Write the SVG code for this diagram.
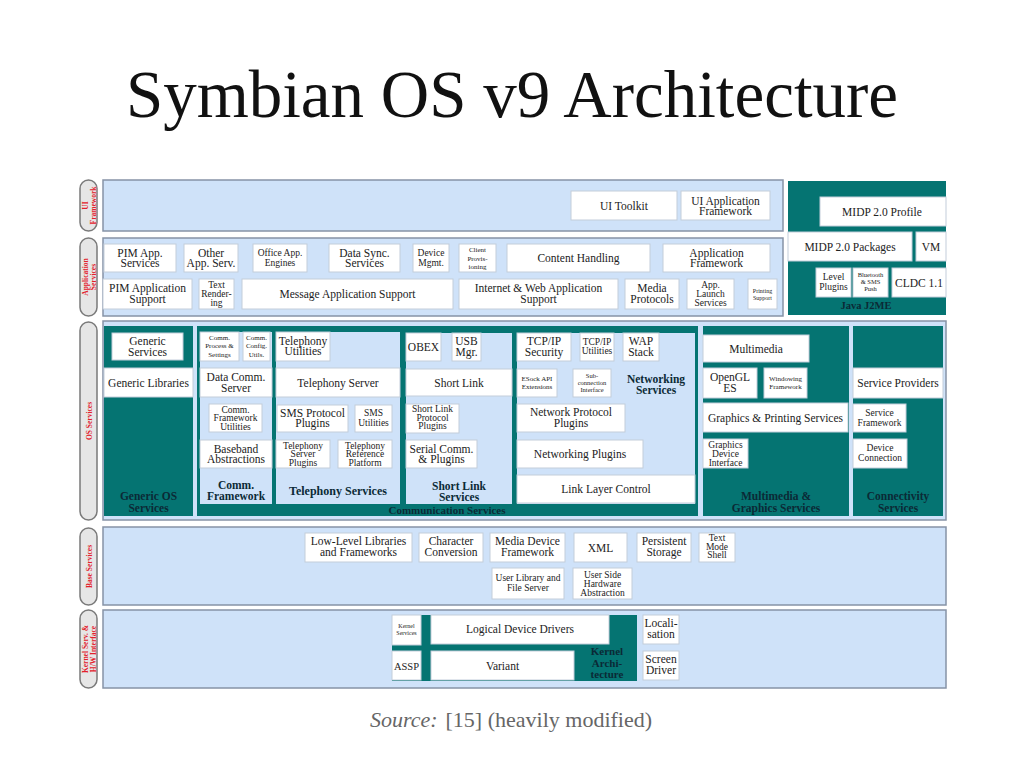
<svg xmlns="http://www.w3.org/2000/svg" width="1024" height="768" viewBox="0 0 1024 768">
<style>
.band{fill:#cfe2f9;stroke:#8693a6;stroke-width:1.5}
.teal{fill:#057472}
.lb{fill:#cfe2f9}
.w{fill:#fff;stroke:#c3cdda;stroke-width:1}
.pill{fill:#e6e6e6;stroke:#7a7a7a;stroke-width:1.5}
text{font-family:"Liberation Serif","Times New Roman",serif;text-anchor:middle;fill:#222;font-size:11.5px}
.s9{font-size:9.5px}
.s7{font-size:7px}
.s6{font-size:6px}
.b{font-weight:bold;fill:#0b2a36;font-size:11.5px}
.pt{font-weight:bold;fill:#e3202a;font-size:7.5px}
</style>
<rect width="1024" height="768" fill="#fff"/>
<text x="512" y="117" style="font-size:67px;fill:#111">Symbian OS v9 Architecture</text>
<text x="511" y="727" style="font-size:22px;fill:#666"><tspan font-style="italic">Source:</tspan><tspan dx="8">[15] (heavily modified)</tspan></text>

<g id="layer-labels">
<rect class="pill" x="80" y="180" width="17" height="51" rx="8.5"/>
<text class="pt" transform="translate(88.5,205.5) rotate(-90)"><tspan x="0" y="-1">UI</tspan><tspan x="0" y="7">Framework</tspan></text>
<rect class="pill" x="80" y="238" width="17" height="78" rx="8.5"/>
<text class="pt" transform="translate(88.5,277) rotate(-90)"><tspan x="0" y="-1">Application</tspan><tspan x="0" y="7">Services</tspan></text>
<rect class="pill" x="80" y="322" width="17" height="198" rx="8.5"/>
<text class="pt" transform="translate(88.5,421) rotate(-90)" x="0" y="3">OS Services</text>
<rect class="pill" x="80" y="528" width="17" height="77" rx="8.5"/>
<text class="pt" transform="translate(88.5,566.5) rotate(-90)" x="0" y="3">Base Services</text>
<rect class="pill" x="80" y="610" width="17" height="78" rx="8.5"/>
<text class="pt" transform="translate(88.5,649) rotate(-90)"><tspan x="0" y="-1">Kernel Serv. &amp;</tspan><tspan x="0" y="7">H/W Interface</tspan></text>
</g>

<g id="ui-framework">
<rect class="band" x="103" y="180" width="680" height="51"/>
<g id="ui-toolkit"><rect class="w" x="571" y="191" width="106" height="29"/><text x="624" y="209.5">UI Toolkit</text></g>
<g id="ui-app-framework"><rect class="w" x="681" y="191" width="89" height="29"/><text x="725.5"><tspan x="725.5" y="204.5">UI Application</tspan><tspan x="725.5" y="214.5">Framework</tspan></text></g>
</g>

<g id="application-services">
<rect class="band" x="103" y="238" width="680" height="78"/>
<g id="pim-app-services"><rect class="w" x="104" y="244" width="72" height="28"/><text><tspan x="140" y="257">PIM App.</tspan><tspan x="140" y="267">Services</tspan></text></g>
<g id="other-app-serv"><rect class="w" x="184" y="244" width="54" height="28"/><text><tspan x="211" y="257">Other</tspan><tspan x="211" y="267">App. Serv.</tspan></text></g>
<g id="office-app-engines"><rect class="w" x="253" y="244" width="54" height="28"/><text class="s9"><tspan x="280" y="256">Office App.</tspan><tspan x="280" y="266">Engines</tspan></text></g>
<g id="data-sync"><rect class="w" x="329" y="244" width="71" height="28"/><text><tspan x="364.5" y="257">Data Sync.</tspan><tspan x="364.5" y="267">Services</tspan></text></g>
<g id="device-mgmt"><rect class="w" x="413" y="244" width="36" height="28"/><text class="s9"><tspan x="431" y="256">Device</tspan><tspan x="431" y="266">Mgmt.</tspan></text></g>
<g id="client-provisioning"><rect class="w" x="459" y="244" width="37" height="28"/><text class="s7"><tspan x="477.5" y="252">Client</tspan><tspan x="477.5" y="260.5">Provis-</tspan><tspan x="477.5" y="269">ioning</tspan></text></g>
<g id="content-handling"><rect class="w" x="507" y="244" width="143" height="28"/><text x="578.5" y="262">Content Handling</text></g>
<g id="application-framework"><rect class="w" x="663" y="244" width="107" height="28"/><text><tspan x="716.5" y="257">Application</tspan><tspan x="716.5" y="267">Framework</tspan></text></g>
<g id="pim-app-support"><rect class="w" x="103" y="279" width="89" height="30"/><text><tspan x="147.5" y="292">PIM Application</tspan><tspan x="147.5" y="302.5">Support</tspan></text></g>
<g id="text-rendering"><rect class="w" x="199" y="279" width="35" height="30"/><text class="s9"><tspan x="216.5" y="287.5">Text</tspan><tspan x="216.5" y="297">Render-</tspan><tspan x="216.5" y="306">ing</tspan></text></g>
<g id="message-app-support"><rect class="w" x="242" y="279" width="211" height="30"/><text x="347.5" y="298">Message Application Support</text></g>
<g id="internet-web"><rect class="w" x="459" y="279" width="159" height="30"/><text><tspan x="538.5" y="292">Internet &amp; Web Application</tspan><tspan x="538.5" y="302.5">Support</tspan></text></g>
<g id="media-protocols"><rect class="w" x="625" y="279" width="54" height="30"/><text><tspan x="652" y="292">Media</tspan><tspan x="652" y="302.5">Protocols</tspan></text></g>
<g id="app-launch"><rect class="w" x="687" y="279" width="47" height="30"/><text class="s9"><tspan x="710.5" y="287.5">App.</tspan><tspan x="710.5" y="297">Launch</tspan><tspan x="710.5" y="306">Services</tspan></text></g>
<g id="printing-support"><rect class="w" x="748" y="279" width="29" height="30"/><text class="s6"><tspan x="762.5" y="293">Printing</tspan><tspan x="762.5" y="299.5">Support</tspan></text></g>
</g>

<g id="java-j2me">
<rect class="teal" x="788" y="181" width="158" height="134"/>
<g id="midp-profile"><rect class="w" x="820" y="197" width="126" height="29"/><text x="882" y="215.5">MIDP 2.0 Profile</text></g>
<g id="midp-packages"><rect class="w" x="788" y="232" width="124" height="29"/><text x="850" y="250.5">MIDP 2.0 Packages</text></g>
<g id="vm"><rect class="w" x="916" y="232" width="30" height="29"/><text x="931" y="250.5">VM</text></g>
<g id="level-plugins"><rect class="w" x="816" y="268" width="35" height="29"/><text class="s9"><tspan x="833.5" y="280">Level</tspan><tspan x="833.5" y="290">Plugins</tspan></text></g>
<g id="bluetooth-sms"><rect class="w" x="853" y="268" width="35" height="29"/><text style="font-size:6.5px"><tspan x="870.5" y="277">Bluetooth</tspan><tspan x="870.5" y="284">&amp; SMS</tspan><tspan x="870.5" y="291">Push</tspan></text></g>
<g id="cldc"><rect class="w" x="892" y="268" width="54" height="29"/><text x="919" y="286.5">CLDC 1.1</text></g>
<text class="b" x="866" y="309" style="font-size:10.5px">Java J2ME</text>
</g>

<g id="os-services">
<rect class="band" x="103" y="321" width="843" height="199"/>
<g id="generic-os-services">
<rect class="teal" x="104" y="326" width="89" height="190"/>
<g id="generic-services"><rect class="w" x="112" y="333" width="71" height="27"/><text><tspan x="147.5" y="345">Generic</tspan><tspan x="147.5" y="355.5">Services</tspan></text></g>
<g id="generic-libraries"><rect class="w" x="104" y="368" width="89" height="29"/><text x="148.5" y="386.5">Generic Libraries</text></g>
<text class="b"><tspan x="148.5" y="500">Generic OS</tspan><tspan x="148.5" y="511.5">Services</tspan></text>
</g>
<g id="communication-services">
<rect class="teal" x="197" y="326" width="501" height="190"/>
<text class="b" x="447" y="513.5" style="font-size:11px">Communication Services</text>
<g id="comm-framework">
<rect class="lb" x="200" y="332" width="72" height="172"/>
<g><rect class="w" x="200" y="332" width="39" height="29"/><text class="s7"><tspan x="219.5" y="339.5">Comm.</tspan><tspan x="219.5" y="348">Process &amp;</tspan><tspan x="219.5" y="356.5">Settings</tspan></text></g>
<g><rect class="w" x="243" y="332" width="27" height="29"/><text class="s7"><tspan x="256.5" y="339.5">Comm.</tspan><tspan x="256.5" y="348">Config.</tspan><tspan x="256.5" y="356.5">Utils.</tspan></text></g>
<g><rect class="w" x="200" y="368" width="72" height="29"/><text><tspan x="236" y="381">Data Comm.</tspan><tspan x="236" y="391.5">Server</tspan></text></g>
<g><rect class="w" x="209" y="404" width="53" height="28"/><text class="s9"><tspan x="235.5" y="412.5">Comm.</tspan><tspan x="235.5" y="421">Framework</tspan><tspan x="235.5" y="429.5">Utilities</tspan></text></g>
<g><rect class="w" x="200" y="440" width="72" height="28"/><text><tspan x="236" y="452.5">Baseband</tspan><tspan x="236" y="463">Abstractions</tspan></text></g>
<text class="b"><tspan x="236" y="488.5">Comm.</tspan><tspan x="236" y="500">Framework</tspan></text>
</g>
<g id="telephony-services">
<rect class="lb" x="276" y="332" width="124" height="172"/>
<g><rect class="w" x="276" y="332" width="54" height="29"/><text><tspan x="303" y="345">Telephony</tspan><tspan x="303" y="355">Utilities</tspan></text></g>
<g><rect class="w" x="276" y="368" width="124" height="29"/><text x="338" y="386.5">Telephony Server</text></g>
<g><rect class="w" x="277" y="405" width="71" height="27"/><text><tspan x="312.5" y="416.5">SMS Protocol</tspan><tspan x="312.5" y="427">Plugins</tspan></text></g>
<g><rect class="w" x="355" y="405" width="37" height="27"/><text class="s9"><tspan x="373.5" y="416">SMS</tspan><tspan x="373.5" y="425.5">Utilities</tspan></text></g>
<g><rect class="w" x="276" y="440" width="54" height="28"/><text class="s9"><tspan x="303" y="448.5">Telephony</tspan><tspan x="303" y="457">Server</tspan><tspan x="303" y="465.5">Plugins</tspan></text></g>
<g><rect class="w" x="338" y="440" width="54" height="28"/><text class="s9"><tspan x="365" y="448.5">Telephony</tspan><tspan x="365" y="457">Reference</tspan><tspan x="365" y="465.5">Platform</tspan></text></g>
<text class="b" x="338" y="495" style="font-size:12px">Telephony Services</text>
</g>
<g id="short-link-services">
<rect class="lb" x="406" y="333" width="106" height="171"/>
<g><rect class="w" x="406" y="333" width="35" height="28"/><text x="423.5" y="351">OBEX</text></g>
<g><rect class="w" x="452" y="333" width="29" height="28"/><text><tspan x="466.5" y="345">USB</tspan><tspan x="466.5" y="355.5">Mgr.</tspan></text></g>
<g><rect class="w" x="406" y="369" width="106" height="27"/><text x="459" y="386.5">Short Link</text></g>
<g><rect class="w" x="406" y="404" width="53" height="29"/><text class="s9"><tspan x="432.5" y="412">Short Link</tspan><tspan x="432.5" y="420.5">Protocol</tspan><tspan x="432.5" y="429">Plugins</tspan></text></g>
<g><rect class="w" x="406" y="440" width="71" height="28"/><text><tspan x="441.5" y="452.5">Serial Comm.</tspan><tspan x="441.5" y="463">&amp; Plugins</tspan></text></g>
<text class="b"><tspan x="459" y="489.5">Short Link</tspan><tspan x="459" y="501">Services</tspan></text>
</g>
<g id="networking-services">
<rect class="lb" x="517" y="333" width="178" height="171"/>
<g><rect class="w" x="517" y="333" width="54" height="28"/><text><tspan x="544" y="345">TCP/IP</tspan><tspan x="544" y="355.5">Security</tspan></text></g>
<g><rect class="w" x="580" y="333" width="34" height="28"/><text class="s9"><tspan x="597" y="345">TCP/IP</tspan><tspan x="597" y="354">Utilities</tspan></text></g>
<g><rect class="w" x="623" y="333" width="36" height="28"/><text><tspan x="641" y="345">WAP</tspan><tspan x="641" y="355.5">Stack</tspan></text></g>
<g><rect class="w" x="517" y="369" width="40" height="28"/><text class="s7"><tspan x="537" y="381">ESock API</tspan><tspan x="537" y="389">Extensions</tspan></text></g>
<g><rect class="w" x="573" y="369" width="38" height="28"/><text style="font-size:6.5px"><tspan x="592" y="377.5">Sub-</tspan><tspan x="592" y="384.5">connection</tspan><tspan x="592" y="391.5">Interface</tspan></text></g>
<text class="b"><tspan x="656" y="382.5">Networking</tspan><tspan x="656" y="394">Services</tspan></text>
<g><rect class="w" x="517" y="404" width="108" height="28"/><text><tspan x="571" y="416">Network Protocol</tspan><tspan x="571" y="426.5">Plugins</tspan></text></g>
<g><rect class="w" x="517" y="440" width="126" height="28"/><text x="580" y="458">Networking Plugins</text></g>
<g><rect class="w" x="517" y="475" width="178" height="28"/><text x="606" y="493">Link Layer Control</text></g>
</g>
</g>
<g id="multimedia-graphics">
<rect class="teal" x="703" y="326" width="146" height="190"/>
<g><rect class="w" x="703" y="335" width="106" height="27"/><text x="756" y="352.5">Multimedia</text></g>
<g><rect class="w" x="703" y="368" width="54" height="30"/><text><tspan x="730" y="381">OpenGL</tspan><tspan x="730" y="391.5">ES</tspan></text></g>
<g><rect class="w" x="764" y="368" width="43" height="30"/><text class="s7"><tspan x="785.5" y="381">Windowing</tspan><tspan x="785.5" y="388.5">Framework</tspan></text></g>
<g><rect class="w" x="703" y="403" width="145" height="29"/><text x="775.5" y="421.5">Graphics &amp; Printing Services</text></g>
<g><rect class="w" x="703" y="439" width="45" height="29"/><text class="s9"><tspan x="725.5" y="447.5">Graphics</tspan><tspan x="725.5" y="456.5">Device</tspan><tspan x="725.5" y="465.5">Interface</tspan></text></g>
<text class="b"><tspan x="776" y="500">Multimedia &amp;</tspan><tspan x="776" y="511.5">Graphics Services</tspan></text>
</g>
<g id="connectivity-services">
<rect class="teal" x="853" y="326" width="90" height="190"/>
<g><rect class="w" x="853" y="368" width="90" height="30"/><text x="898" y="387">Service Providers</text></g>
<g><rect class="w" x="853" y="404" width="53" height="28"/><text class="s9"><tspan x="879.5" y="416">Service</tspan><tspan x="879.5" y="425.5">Framework</tspan></text></g>
<g><rect class="w" x="853" y="439" width="54" height="29"/><text class="s9"><tspan x="880" y="451">Device</tspan><tspan x="880" y="460.5">Connection</tspan></text></g>
<text class="b"><tspan x="898" y="500">Connectivity</tspan><tspan x="898" y="511.5">Services</tspan></text>
</g>
</g>

<g id="base-services">
<rect class="band" x="103" y="527" width="843" height="78"/>
<g><rect class="w" x="305" y="533" width="107" height="29"/><text><tspan x="358.5" y="545">Low-Level Libraries</tspan><tspan x="358.5" y="555.5">and Frameworks</tspan></text></g>
<g><rect class="w" x="419" y="533" width="64" height="29"/><text><tspan x="451" y="545">Character</tspan><tspan x="451" y="555.5">Conversion</tspan></text></g>
<g><rect class="w" x="490" y="533" width="75" height="29"/><text><tspan x="527.5" y="545">Media Device</tspan><tspan x="527.5" y="555.5">Framework</tspan></text></g>
<g><rect class="w" x="574" y="533" width="53" height="29"/><text x="600.5" y="551.5">XML</text></g>
<g><rect class="w" x="637" y="533" width="54" height="29"/><text><tspan x="664" y="545">Persistent</tspan><tspan x="664" y="555.5">Storage</tspan></text></g>
<g><rect class="w" x="699" y="533" width="36" height="29"/><text class="s9"><tspan x="717" y="540.5">Text</tspan><tspan x="717" y="549.5">Mode</tspan><tspan x="717" y="558">Shell</tspan></text></g>
<g><rect class="w" x="492" y="568" width="72" height="31"/><text class="s9"><tspan x="528" y="581">User Library and</tspan><tspan x="528" y="590.5">File Server</tspan></text></g>
<g><rect class="w" x="573" y="568" width="59" height="31"/><text class="s9"><tspan x="602.5" y="577.5">User Side</tspan><tspan x="602.5" y="586.5">Hardware</tspan><tspan x="602.5" y="595.5">Abstraction</tspan></text></g>
</g>

<g id="kernel-hw">
<rect class="band" x="103" y="610" width="843" height="78"/>
<g id="kernel-architecture">
<rect class="teal" x="392" y="615" width="245" height="66"/>
<g><rect class="w" x="392" y="615" width="29" height="30"/><text class="s6"><tspan x="406.5" y="628">Kernel</tspan><tspan x="406.5" y="635">Services</tspan></text></g>
<g><rect class="w" x="431" y="615" width="178" height="29"/><text x="520" y="633">Logical Device Drivers</text></g>
<g><rect class="w" x="392" y="651" width="29" height="29"/><text x="406.5" y="669.5" style="font-size:10.5px">ASSP</text></g>
<g><rect class="w" x="431" y="651" width="143" height="29"/><text x="502.5" y="669.5">Variant</text></g>
<text class="b" style="font-size:11px"><tspan x="607" y="655">Kernel</tspan><tspan x="607" y="666.5">Archi-</tspan><tspan x="607" y="678">tecture</tspan></text>
</g>
<g><rect class="w" x="643" y="615" width="36" height="29"/><text><tspan x="661" y="627">Locali-</tspan><tspan x="661" y="638">sation</tspan></text></g>
<g><rect class="w" x="643" y="651" width="36" height="29"/><text><tspan x="661" y="663">Screen</tspan><tspan x="661" y="674">Driver</tspan></text></g>
</g>
<g id="connectors"/>
</svg>
